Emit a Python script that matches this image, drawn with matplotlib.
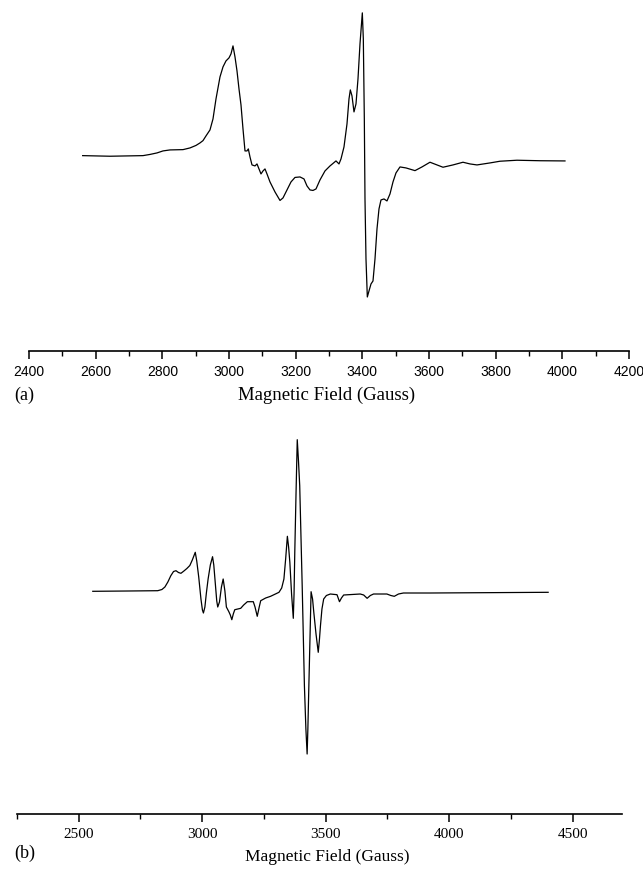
import matplotlib
matplotlib.use("Agg")
import matplotlib.pyplot as plt
from matplotlib.ticker import MultipleLocator

# (a) spectrum, field in Gauss, signal in arbitrary units
field_a = [2561, 2643, 2742, 2763, 2784, 2802, 2823, 2862, 2883, 2901, 2913, 2922,
           2931, 2943, 2952, 2961, 2973, 2982, 2991, 3000, 3006, 3012, 3018, 3024,
           3030, 3036, 3042, 3048, 3054, 3058, 3063, 3069, 3078, 3084, 3090, 3096,
           3102, 3108, 3114, 3123, 3138, 3153, 3162, 3174, 3186, 3198, 3213, 3225,
           3234, 3243, 3252, 3261, 3273, 3288, 3303, 3321, 3330, 3336, 3345, 3354,
           3360, 3364, 3369, 3375, 3381, 3387, 3393, 3400, 3403, 3406, 3408, 3411,
           3415, 3420, 3426, 3432, 3438, 3444, 3450, 3456, 3465, 3474, 3483, 3492,
           3501, 3513, 3531, 3558, 3579, 3603, 3624, 3642, 3672, 3702, 3723, 3744,
           3783, 3813, 3864, 3933, 4008]
signal_a = [0.3, -0.3, 0.3, 1.5, 3, 5, 6, 6.3, 8, 10.5, 13, 15.3,
            20, 26, 37, 57, 79, 89, 95, 98, 102, 110, 99, 85,
            67, 51, 27, 5, 5, 7, -1, -9, -10, -8, -13, -18,
            -15, -13, -18, -26, -36, -44.5, -42, -34, -26, -21.5, -21, -23,
            -30, -34, -34.5, -33, -24, -15, -10, -5, -8, -3, 9, 32,
            57, 66, 60, 44, 52, 77, 112, 143, 117, 37, -43, -103,
            -141, -135, -128, -125, -103, -73, -53, -44, -43, -45, -38, -26,
            -17, -11, -12, -14.7, -11, -6.3, -9, -11.3, -9, -6.3, -8, -9,
            -7, -5.3, -4.3, -4.8, -5]

# (b) spectrum
field_b = [2557, 2699, 2820, 2837, 2849, 2861, 2873, 2884, 2894, 2904, 2914, 2926,
           2938, 2950, 2960, 2972, 2978, 2986, 2995, 3001, 3005, 3011, 3017, 3024,
           3033, 3042, 3047, 3053, 3059, 3063, 3070, 3078, 3085, 3092, 3098, 3108,
           3114, 3120, 3126, 3132, 3156, 3168, 3183, 3207, 3214, 3223, 3231, 3237,
           3257, 3277, 3311, 3322, 3331, 3338, 3345, 3350, 3355, 3362, 3369, 3372,
           3375, 3380, 3385, 3390, 3395, 3405, 3414, 3420, 3425, 3428, 3432, 3437,
           3441, 3447, 3452, 3461, 3470, 3475, 3479, 3485, 3492, 3503, 3519, 3546,
           3556, 3564, 3573, 3640, 3654, 3668, 3681, 3694, 3748, 3764, 3778, 3795,
           3815, 3923, 4401]
signal_b = [0.7, 1, 1.3, 2.5, 5, 10, 16.3, 20.5, 21.3, 19.5, 18.7, 21,
            23.5, 26.5, 32, 39.7, 31, 15, -7, -18, -21, -15, -1, 13,
            27, 35.3, 27, 9, -9, -15, -10, 5, 13, 1, -15, -19.7,
            -23, -27.7, -22, -17.7, -16.3, -13, -9.7, -9.7, -15, -24.3, -15, -8.7,
            -6, -4.3, -0.3, 4, 13, 33, 55.7, 45, 29.7, -2, -26.3, -2,
            39.7, 98, 152.3, 131, 106.3, 6.3, -93.7, -137, -162, -137, -93.7, -42,
            0.3, -7, -20.3, -42, -60.3, -47, -33.7, -17, -7, -3.5, -2, -2.7,
            -9.7, -6, -3, -2, -3, -6.3, -3.5, -2, -2, -3.5, -4.3, -2,
            -1, -1, -0.3]

serif = ['Liberation Serif', 'DejaVu Serif']
sans = ['Liberation Sans', 'DejaVu Sans']

fig = plt.figure(figsize=(6.43, 8.70), dpi=100)

ax_a = fig.add_axes([0.0451, 0.5954, 0.9331, 0.399])
ax_b = fig.add_axes([0.0264, 0.0632, 0.9409, 0.4483])

ax_a.plot(field_a, signal_a, color='black', lw=0.9)
ax_a.set_xlim(2400, 4200)
ax_a.set_ylim(-195, 152)
ax_a.xaxis.set_major_locator(MultipleLocator(200))
ax_a.xaxis.set_minor_locator(MultipleLocator(100))
for lab in ax_a.get_xticklabels():
    lab.set_family(sans)
    lab.set_fontsize(10)

ax_b.plot(field_b, signal_b, color='black', lw=0.9)
ax_b.set_xlim(2250, 4700)
ax_b.set_ylim(-222, 168)
ax_b.xaxis.set_major_locator(MultipleLocator(500))
ax_b.xaxis.set_minor_locator(MultipleLocator(250))
for lab in ax_b.get_xticklabels():
    lab.set_family(serif)
    lab.set_fontsize(11)

for ax in (ax_a, ax_b):
    for s in ('top', 'left', 'right'):
        ax.spines[s].set_visible(False)
    ax.spines['bottom'].set_linewidth(1.2)
    ax.set_yticks([])
    ax.tick_params(axis='x', which='major', length=6, width=1.1, pad=3)
    ax.tick_params(axis='x', which='minor', length=3.5, width=1.0)
    ax.patch.set_visible(False)

fig.text(14 / 643, 1 - 395 / 870, '(a)', family=serif, fontsize=13, va='center', ha='left')
fig.text(327 / 643, 1 - 395 / 870, 'Magnetic Field (Gauss)', family=serif, fontsize=13.5,
         va='center', ha='center')
fig.text(14 / 643, 1 - 853 / 870, '(b)', family=serif, fontsize=13, va='center', ha='left')
fig.text(327 / 643, 1 - 857 / 870, 'Magnetic Field (Gauss)', family=serif, fontsize=12.5,
         va='center', ha='center')

fig.savefig('out.png', dpi=100)
